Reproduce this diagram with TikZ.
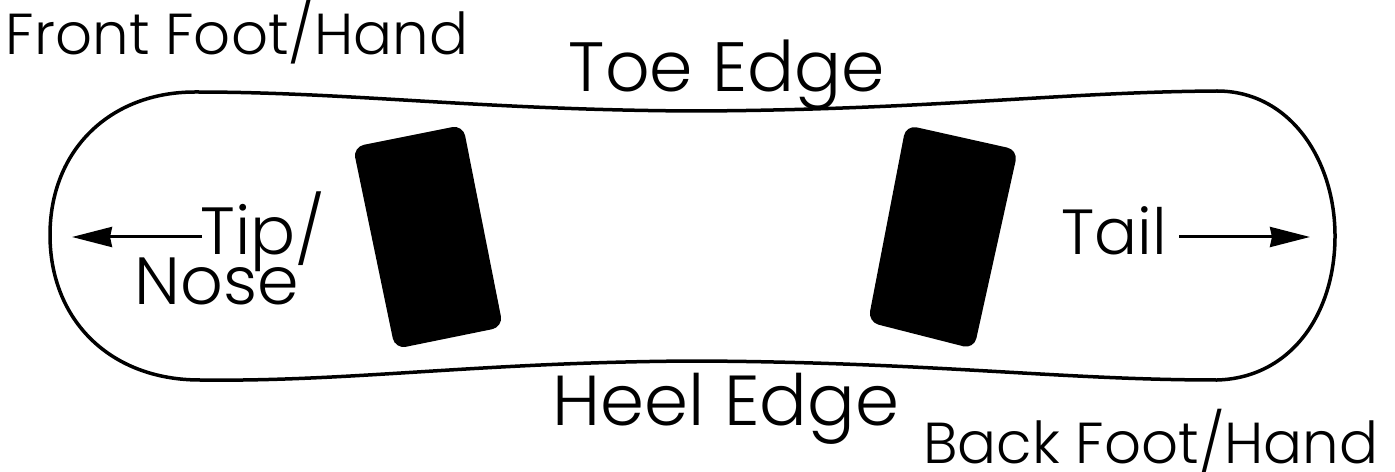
\documentclass[tikz,border=0pt]{standalone}
\usepackage{fontspec}
\setmainfont{Poppins}[UprightFont=* Light]
\usetikzlibrary{arrows.meta}
\tikzset{lbl/.style={inner sep=0pt,anchor=base,text=black},
 binding/.style={fill=black,rounded corners=11bp},
 board/.style={draw=black,line width=3.5bp},
 arr/.style={draw=black,line width=3bp,-{Stealth[length=40bp,width=20bp,inset=2bp]}}}
\newcommand{\fsz}[1]{\fontsize{#1}{#1}\selectfont}
\begin{document}
\begin{tikzpicture}[x=1bp,y=-1bp]
\useasboundingbox (0,0) rectangle (1395,472);
\fill[white] (0,0) rectangle (1395,472);
\draw[board] (195,92) .. controls (350,92) and (480,110) .. (695,111)
 .. controls (930,110) and (1060,92) .. (1217,91)
 .. controls (1290,91) and (1335,160) .. (1335,236)
 .. controls (1335,315) and (1290,378) .. (1217,380)
 .. controls (1060,380) and (930,362) .. (695,361)
 .. controls (480,362) and (350,382) .. (200,380)
 .. controls (110,380) and (50,320) .. (50,235)
 .. controls (50,150) and (110,92) .. (195,92) -- cycle;
\fill[binding] (353,147) -- (463,125) -- (503,327) -- (395,349) -- cycle;
\fill[binding] (906,125) -- (1018,150) -- (974,349) -- (868,322) -- cycle;
\node[lbl,font=\fsz{58}] (front) at (237,55) {Front Foot/Hand};
\node[lbl,font=\fsz{70}] (toe) at (727,92) {Toe Edge};
\node[lbl,font=\fsz{71}] (heel) at (726,425) {Heel Edge};
\node[lbl,font=\fsz{58}] (back) at (1151,463) {Back Foot/Hand};
\node[lbl,font=\fsz{67}] (tip) at (263,255) {Tip/};
\node[lbl,font=\fsz{67}] (nose) at (217,305) {Nose};
\node[lbl,font=\fsz{64}] (tail) at (1114,255) {Tail};
\coordinate (tipe) at (72,237);
\coordinate (taile) at (1310,237);
\draw[arr] (202,237) -- (tipe);
\draw[arr] (1179,237) -- (taile);
\end{tikzpicture}
\end{document}
